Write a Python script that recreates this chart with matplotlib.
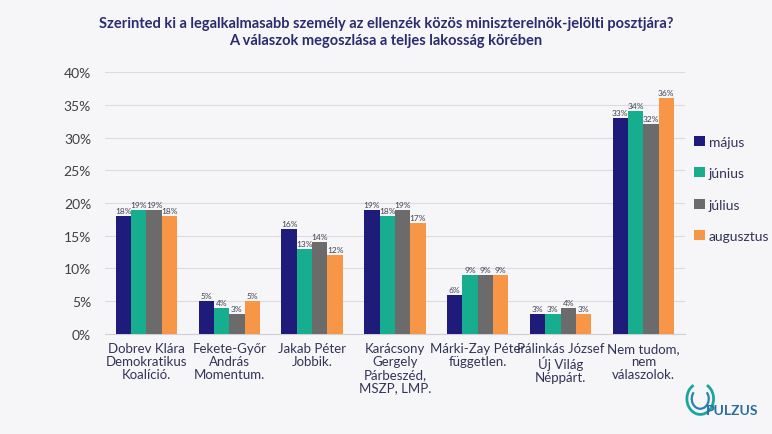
import matplotlib
matplotlib.use("Agg")
import matplotlib.pyplot as plt
import numpy as np
from matplotlib.patches import Arc

plt.rcParams["font.family"] = ["Lato", "DejaVu Sans"]

categories = ["Dobrev Klára\nDemokratikus\nKoalíció.", "Fekete-Győr\nAndrás\nMomentum.",
              "Jakab Péter\nJobbik.", "Karácsony\nGergely\nPárbeszéd,\nMSZP, LMP.",
              "Márki-Zay Péter\nfüggetlen.", "Pálinkás József\nÚj Világ\nNéppárt.",
              "Nem tudom,\nnem\nválaszolok."]
series = ["május", "június", "július", "augusztus"]
majus = [18, 5, 16, 19, 6, 3, 33]
junius = [19, 4, 13, 18, 9, 3, 34]
julius = [19, 3, 14, 19, 9, 4, 32]
augusztus = [18, 5, 12, 17, 9, 3, 36]
yticks = [0, 5, 10, 15, 20, 25, 30, 35, 40]

colors = ["#1e1b7b", "#17ae8f", "#6b6b6b", "#f79646"]
bg = "#f6f6f8"
values = [majus, junius, julius, augusztus]

fig = plt.figure(figsize=(7.72, 4.35), dpi=100, facecolor=bg)
ax = fig.add_axes([0.136, 0.23, 0.751, 0.602], facecolor=bg)

x = np.arange(len(categories))
w = 0.185
for i, (s, v) in enumerate(zip(series, values)):
    pos = x + (i - 1.5) * w
    ax.bar(pos, v, width=w, color=colors[i], label=s, zorder=3)
    for p, val in zip(pos, v):
        ax.text(p, val + 0.3, f"{val}%", ha="center", va="bottom", fontsize=6,
                color="#404050", zorder=4)

ax.set_xlim(-0.5, len(categories) - 0.5)
ax.set_ylim(0, 40)
ax.set_yticks(yticks)
ax.set_yticklabels([f"{t}%" for t in yticks], fontsize=10, color="#404040")
ax.set_xticks(x)
ax.set_xticklabels(categories, fontsize=9.5, color="#33335a", linespacing=1.1)
ax.tick_params(axis="both", length=0, pad=6)
ax.tick_params(axis="y", pad=10)
ax.grid(axis="y", color="#dcdce0", linewidth=0.8, zorder=0)
for sp in ["top", "right", "left"]:
    ax.spines[sp].set_visible(False)
ax.spines["bottom"].set_color("#d0d0d4")

fig.text(0.5, 0.925, "Szerinted ki a legalkalmasabb személy az ellenzék közös miniszterelnök-jelölti posztjára?\nA válaszok megoszlása a teljes lakosság körében",
         ha="center", va="center", fontsize=10.5, fontweight="bold", color="#2b2b70", linespacing=1.3)

leg = ax.legend(loc="upper left", bbox_to_anchor=(0.995, 0.805), frameon=False, fontsize=10,
                handlelength=0.75, handleheight=0.75, handletextpad=0.3, labelspacing=1.4,
                labelcolor="#33335a")

# logo
lax = fig.add_axes([0.885, 0.025, 0.115, 0.1], facecolor="none")
lax.set_xlim(0, 12); lax.set_ylim(0, 5); lax.axis("off")
lax.add_patch(Arc((2.3, 2.8), 3.6, 3.6, theta1=120, theta2=420, color="#1aa6a0", lw=2))
lax.add_patch(Arc((2.3, 2.8), 2.3, 2.3, theta1=140, theta2=400, color="#2a7fb8", lw=1.6))
lax.text(3.1, 1.5, "PULZUS", fontsize=10, color="#2a6e9e", fontweight="bold", va="center")

fig.savefig("out.png", dpi=100, facecolor=bg)
